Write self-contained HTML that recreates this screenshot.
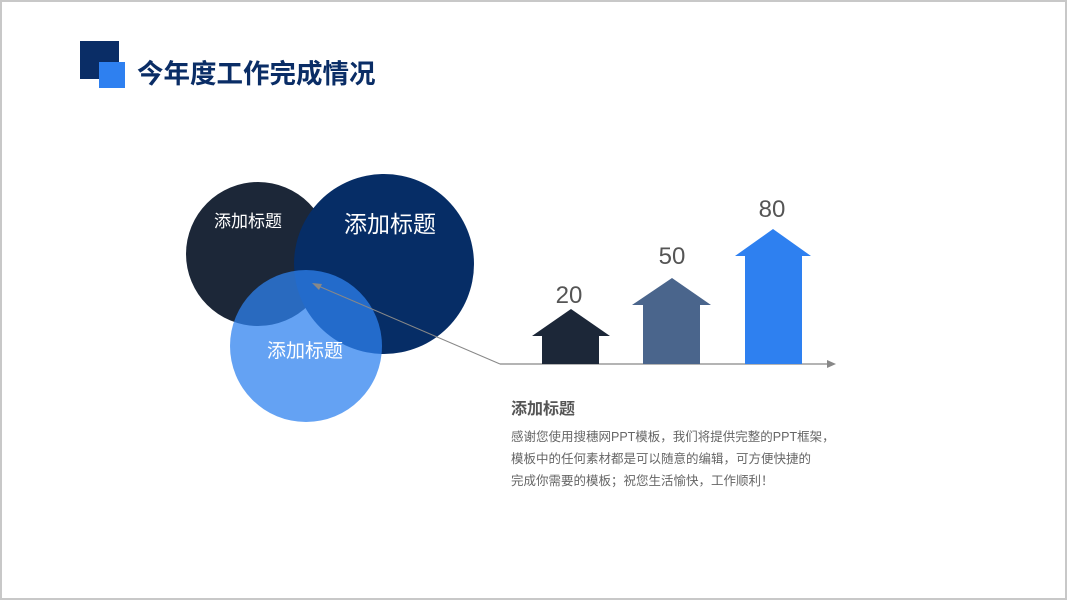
<!DOCTYPE html><html><head><meta charset="utf-8"><style>
body{margin:0;width:1067px;height:600px;overflow:hidden;background:#fff;font-family:"Liberation Sans","Noto Sans CJK SC",sans-serif}
.f{position:absolute;left:0;top:0;width:1063px;height:596px;border:2px solid #c8c8c8}
.t{position:absolute;white-space:nowrap}
</style></head><body><div class="f"></div>
<svg width="1067" height="600" style="position:absolute;left:0;top:0">
<rect x="80" y="41" width="39" height="38" fill="#0a2d66"/>
<rect x="99" y="62" width="26" height="26" fill="#2e80f0"/>
<circle cx="258" cy="254" r="72" fill="#1c2738"/>
<circle cx="384" cy="264" r="90" fill="#062d66"/>
<circle cx="306" cy="346" r="76" fill="#2e82ef" fill-opacity="0.74"/>
<line x1="500" y1="364" x2="316" y2="285" stroke="#888" stroke-width="1"/>
<polygon points="312,283 322,284 319,290" fill="#888"/>
<line x1="500" y1="364" x2="828" y2="364" stroke="#888" stroke-width="1.2"/>
<polygon points="836,364 827,360 827,368" fill="#888"/>
<polygon points="532,336 571,309 610,336 599,336 599,364 542,364 542,336" fill="#1c2738"/>
<polygon points="632,305 672,278 711,305 700,305 700,364 643,364 643,305" fill="#4a658c"/>
<polygon points="735,256 773,229 811,256 802,256 802,364 745,364 745,256" fill="#2e80f0"/>
<text x="569" y="303" font-size="24" fill="#555" text-anchor="middle" font-family="Liberation Sans">20</text>
<text x="672" y="264" font-size="24" fill="#555" text-anchor="middle" font-family="Liberation Sans">50</text>
<text x="772" y="217" font-size="24" fill="#555" text-anchor="middle" font-family="Liberation Sans">80</text>
</svg>
<div class="t" style="left:137px;top:52px;font-size:26.5px;font-weight:bold;color:#0a2d66">今年度工作完成情况</div>
<div class="t" style="left:214px;top:207px;font-size:17px;color:#fff">添加标题</div>
<div class="t" style="left:344px;top:205px;font-size:23px;color:#fff">添加标题</div>
<div class="t" style="left:267px;top:336px;font-size:19px;color:#fff">添加标题</div>
<div class="t" style="left:511px;top:395px;font-size:16px;font-weight:bold;color:#555">添加标题</div>
<div class="t" style="left:511px;top:426px;font-size:12.5px;line-height:22px;color:#666">感谢您使用搜穗网PPT模板，我们将提供完整的PPT框架，<br>模板中的任何素材都是可以随意的编辑，可方便快捷的<br>完成你需要的模板；祝您生活愉快，工作顺利！</div>
</body></html>
